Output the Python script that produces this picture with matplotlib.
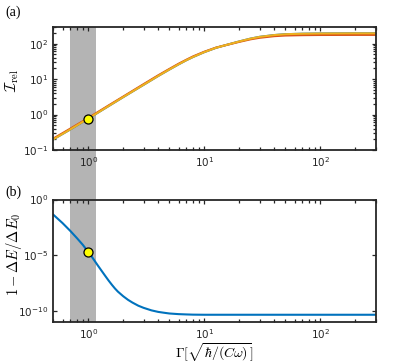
import numpy as np
import matplotlib
matplotlib.use('Agg')
import matplotlib.pyplot as plt
import matplotlib.ticker as ticker
import matplotlib.transforms as transforms
from matplotlib.patches import Rectangle

# (a) relative intensity vs Gamma
gam_a = [0.5, 0.7, 1, 1.5, 2, 3, 4, 5, 6, 7, 8, 10, 12.6, 15, 20, 25, 30, 40, 50, 70, 100, 200, 300]
irel_yellow = [0.20, 0.38, 0.77, 1.74, 3.1, 6.9, 12.2, 18.6, 26, 34, 42, 57.5, 76, 89, 115, 138,
               155, 174, 184, 190, 193, 195, 195]
irel_red = [0.21, 0.40, 0.80, 1.81, 3.2, 7.2, 12.7, 19.3, 27, 35, 43.5, 59, 77, 89, 112, 132,
            146, 162, 169, 173, 175, 176, 176]
irel_blue = irel_yellow

# (b) energy deviation vs Gamma
gam_b = [0.5, 0.6, 0.7, 0.8, 0.9, 1, 1.1, 1.2, 1.3, 1.4, 1.5, 1.6, 1.7, 1.8, 2, 2.2, 2.4, 2.7, 3,
         3.5, 4, 4.5, 5, 6, 7, 8, 10, 20, 50, 100, 300]
dE = [4.3e-2, 7.6e-3, 1.5e-3, 3.3e-4, 8.1e-5, 1.9e-5, 4.9e-6, 1.3e-6, 4.0e-7, 1.35e-7, 5.0e-8,
      2.1e-8, 9.8e-9, 5.2e-9, 2.0e-9, 9.5e-10, 5.4e-10, 2.8e-10, 1.8e-10, 1.07e-10, 7.8e-11,
      6.5e-11, 5.6e-11, 4.9e-11, 4.6e-11, 4.4e-11, 4.3e-11, 4.3e-11, 4.3e-11, 4.3e-11, 4.3e-11]

# highlighted point and band
mark_x = 1.0
mark_a = 0.77
mark_b = 1.9e-5
band = (0.7, 1.17)

blue, red, yellow = '#0072BD', '#D95319', '#EDB120'
spine_c = '#262626'

plt.rcParams['font.family'] = ['DejaVu Sans']
plt.rcParams['axes.unicode_minus'] = False
plt.rcParams['xtick.direction'] = 'in'
plt.rcParams['ytick.direction'] = 'in'

fig = plt.figure(figsize=(4.15, 3.63), dpi=100)
ax1 = fig.add_axes([0.1285, 0.5868, 0.7768, 0.3397])
ax2 = fig.add_axes([0.1285, 0.1135, 0.7768, 0.3369])

ax1.plot(gam_a, irel_blue, color=blue, lw=1.5)
ax1.plot(gam_a, irel_red, color=red, lw=1.5)
ax1.plot(gam_a, irel_yellow, color=yellow, lw=1.5)
ax1.plot([mark_x], [mark_a], 'o', ms=6.5, mfc='#FFFF00', mec='k', mew=0.9, zorder=5)

ax2.plot(gam_b, dE, color=blue, lw=1.5)
ax2.plot([mark_x], [mark_b], 'o', ms=6.5, mfc='#FFFF00', mec='k', mew=0.9, zorder=5)

for ax in (ax1, ax2):
    ax.set_xscale('log')
    ax.set_yscale('log')
    ax.set_xlim(0.5, 300)
    ax.set_facecolor('none')
    for s in ax.spines.values():
        s.set_color(spine_c)
        s.set_linewidth(1.3)
    ax.tick_params(which='both', top=True, right=True, colors=spine_c, labelsize=7.5, width=0.9)
    ax.tick_params(which='major', length=3)
    ax.tick_params(which='minor', length=2)
    ax.tick_params(axis='x', pad=4)

ax1.set_ylim(0.1, 300)
ax1.set_ylabel(r'$\mathcal{I}_{\mathrm{rel}}$', fontsize=11, math_fontfamily='cm')
ax1.yaxis.set_label_coords(-0.1, 0.56)

ax2.set_ylim(1e-11, 1)
ax2.yaxis.set_major_locator(ticker.FixedLocator([1e-10, 1e-5, 1]))
ax2.yaxis.set_minor_locator(ticker.NullLocator())
ax2.set_ylabel(r'$1-\Delta E/\Delta E_0$', fontsize=10.5, math_fontfamily='cm')
ax2.yaxis.set_label_coords(-0.09, 0.55)
ax2.set_xlabel(r'$\Gamma[\sqrt{\hbar/(C\omega)}]$', fontsize=10, math_fontfamily='cm')
ax2.xaxis.set_label_coords(0.5, -0.16)

# grey band running through both panels
trans = transforms.blended_transform_factory(ax1.transData, fig.transFigure)
y0 = 0.1135
y1 = 0.5868 + 0.3397
fig.patches.append(Rectangle((band[0], y0), band[1] - band[0], y1 - y0, transform=trans,
                             facecolor='#b4b4b4', edgecolor='none', zorder=-1, figure=fig))

fig.text(0.012, 0.965, '(a)', fontsize=10, family='Liberation Serif', va='center')
fig.text(0.014, 0.47, '(b)', fontsize=10, family='Liberation Serif', va='center')

fig.savefig('out.png', dpi=100)
